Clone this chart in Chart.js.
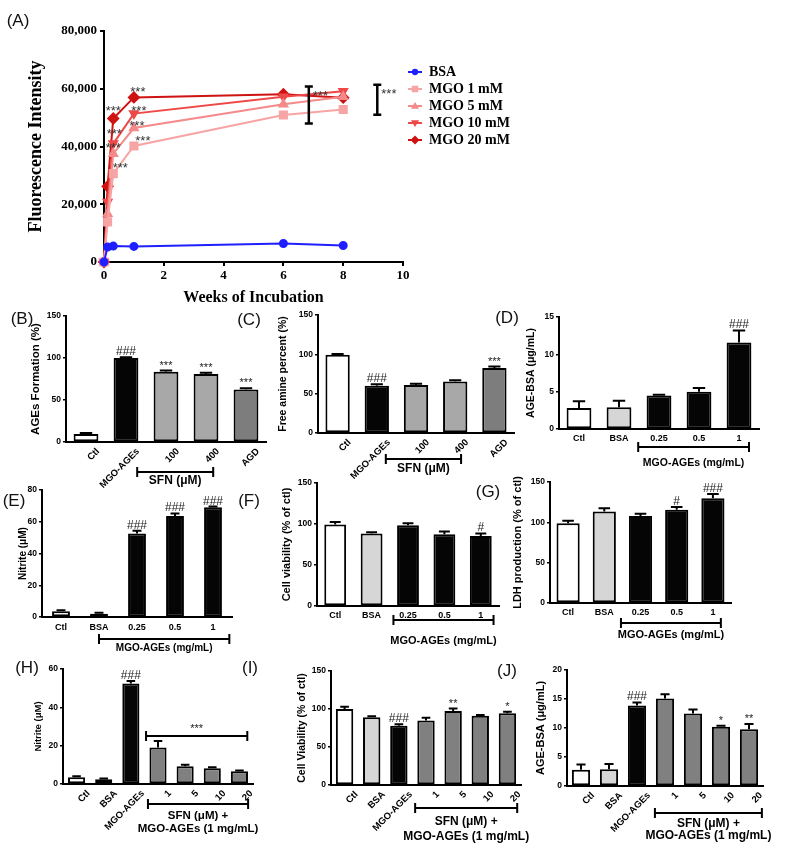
<!DOCTYPE html>
<html lang="en">
<head>
<meta charset="UTF-8" />
<title>MGO-AGEs and SFN - figure</title>
<script src="https://cdn.jsdelivr.net/npm/chart.js"></script>
<style>
  body { margin:0; background:#fff; }
  #page { position:relative; width:785px; height:851px; overflow:hidden; background:#fff; }
  .tag { position:absolute; font:17px "Liberation Sans", Arial, sans-serif; line-height:1; transform:translate(-50%,-50%); color:#111; white-space:nowrap; }
</style>
</head>
<body>
<div id="page"></div>

<script>
// ---------- (A) fluorescence over time ----------
const weeks = [0, 0.12, 0.31, 1, 6, 8];
const seriesNames = ['BSA', 'MGO 1 mM', 'MGO 5 mM', 'MGO 10 mM', 'MGO 20 mM'];
const bsaSeries   = [0, 5200, 5500, 5400, 6400, 5700];
const mgo1Series  = [0, 13900, 30600, 40200, 50900, 52800];
const mgo5Series  = [0, 16700, 37500, 46400, 54600, 57200];
const mgo10Series = [0, 20800, 41000, 51400, 57200, 59100];
const mgo20Series = [0, 26200, 49700, 57000, 58100, 56900];

// ---------- (B)-(J) bar panels: mean, error, significance ----------
const sfnLabels   = ['Ctl', 'MGO-AGEs', '100', '400', 'AGD'];
const doseLabels  = ['Ctl', 'BSA', '0.25', '0.5', '1'];
const treatLabels = ['Ctl', 'BSA', 'MGO-AGEs', '1', '5', '10', '20'];

const bValues = [9.5, 100, 83.5, 81, 62.5];
const bErrors = [1.2, 1, 1.5, 1.5, 1.5];
const bMarks  = ['', '###', '***', '***', '***'];

const cValues = [99.5, 60, 61, 65.5, 82.5];
const cErrors = [1, 2, 1.5, 1.5, 2];
const cMarks  = ['', '###', '', '', '***'];

const dValues = [2.8, 2.9, 4.5, 5.0, 11.6];
const dErrors = [0.9, 0.9, 0.1, 0.5, 1.6];
const dMarks  = ['', '', '', '', '###'];

const eValues = [3.6, 2.1, 52.6, 63.6, 69.1];
const eErrors = [0.6, 0.5, 1.7, 1.6, 0.5];
const eMarks  = ['', '', '###', '###', '###'];

const fValues = [99.5, 88.5, 98.5, 87.5, 85.5];
const fErrors = [3, 1.5, 2.5, 3.5, 3];
const fMarks  = ['', '', '', '', '#'];

const gValues = [99, 113.5, 108, 115.5, 130];
const gErrors = [3, 4, 2.5, 3.5, 5];
const gMarks  = ['', '', '', '#', '###'];

const hValues = [3.5, 2.5, 52.5, 19, 9.3, 8.2, 6.6];
const hErrors = [0.5, 0.4, 1.3, 3.5, 0.8, 0.5, 0.5];
const hMarks  = ['', '', '###', '', '', '', ''];

const iValues = [100, 89, 78, 85, 97.5, 91, 94.5];
const iErrors = [3, 1.5, 2, 3.5, 3, 1, 2];
const iMarks  = ['', '', '###', '', '**', '', '*'];

const jValues = [2.8, 2.9, 13.9, 15.1, 12.5, 10.2, 9.8];
const jErrors = [0.9, 0.9, 0.5, 0.7, 0.7, 0.2, 0.9];
const jMarks  = ['', '', '###', '', '', '*', '**'];

// ---------- setup ----------
const SANS = '"Liberation Sans", Arial, sans-serif';
const SERIF = '"Liberation Serif", "Times New Roman", serif';
Chart.defaults.font.family = SANS;
Chart.defaults.color = '#000';
Chart.defaults.animation = false;
Chart.defaults.plugins.legend.display = false;
Chart.defaults.plugins.tooltip.enabled = false;

const page = document.getElementById('page');

function mount(box) {
  const [l, t, w, h] = box;
  const cv = document.createElement('canvas');
  cv.width = w; cv.height = h;
  cv.style.cssText = `position:absolute;left:${l}px;top:${t}px;width:${w}px;height:${h}px`;
  page.appendChild(cv);
  return cv;
}

function marker(ctx, style, x, y, r, color) {
  ctx.fillStyle = color;
  ctx.beginPath();
  if (style === 'circle') ctx.arc(x, y, r, 0, Math.PI * 2);
  else if (style === 'rect') ctx.rect(x - r * 0.72, y - r * 0.72, r * 1.44, r * 1.44);
  else if (style === 'up') { ctx.moveTo(x, y - r); ctx.lineTo(x + r, y + r * 0.7); ctx.lineTo(x - r, y + r * 0.7); ctx.closePath(); }
  else if (style === 'down') { ctx.moveTo(x, y + r); ctx.lineTo(x + r, y - r * 0.7); ctx.lineTo(x - r, y - r * 0.7); ctx.closePath(); }
  else { ctx.moveTo(x, y - r); ctx.lineTo(x + r, y); ctx.lineTo(x, y + r); ctx.lineTo(x - r, y); ctx.closePath(); }
  ctx.fill();
}

// asterisks float high in the em box, so place them by their visual centre
function stars(ctx, txt, x, yc, size) {
  ctx.font = `${size}px ${SANS}`;
  ctx.textBaseline = 'alphabetic';
  ctx.fillText(txt, x, yc + size * 0.57);
}

// ---------- panel (A) ----------
const aSeries = [bsaSeries, mgo1Series, mgo5Series, mgo10Series, mgo20Series];
const aColors = ['#1f1fff', '#f7a4a4', '#f48a8a', '#ef4848', '#cf1212'];
const aPoints = ['circle', 'rect', 'triangle', 'triangle', 'rectRot'];
const aLegendShapes = ['circle', 'rect', 'up', 'down', 'diamond'];
const aRot = [0, 0, 0, 180, 0];
const aRadius = [3.5, 5, 4.5, 4.5, 5];
// '***' labels: [series, point, dx, dy] in pixels from the point
const aStars = [[4, 3, 4, -9], [4, 2, 0, -11], [3, 3, 5, -6], [3, 2, 1, -13],
                [2, 3, 3, -5], [2, 2, 0, -9], [1, 3, 9, -8], [1, 2, 7, -9]];
// vertical significance brackets: [week, low, high]
const aBrackets = [[6.85, 48000, 60800], [9.14, 51000, 61400]];

const aExtras = {
  id: 'aExtras',
  afterDatasetsDraw(chart) {
    const { ctx, scales: { x, y }, chartArea } = chart;
    ctx.save();
    ctx.fillStyle = '#333';
    ctx.textAlign = 'center';
    aStars.forEach(([s, i, dx, dy]) => {
      stars(ctx, '***', x.getPixelForValue(weeks[i]) + dx, y.getPixelForValue(aSeries[s][i]) + dy, 13);
    });
    ctx.strokeStyle = '#000';
    ctx.lineWidth = 2.5;
    aBrackets.forEach(([wk, lo, hi]) => {
      const bx = x.getPixelForValue(wk), ya = y.getPixelForValue(hi), yb = y.getPixelForValue(lo);
      ctx.beginPath();
      ctx.moveTo(bx, ya); ctx.lineTo(bx, yb);
      ctx.moveTo(bx - 4, ya); ctx.lineTo(bx + 4, ya);
      ctx.moveTo(bx - 4, yb); ctx.lineTo(bx + 4, yb);
      ctx.stroke();
      ctx.textAlign = 'left';
      ctx.fillStyle = '#333';
      stars(ctx, '***', bx + 4, ya + 6, 13);
    });
    // legend
    const lx = chartArea.right + 12;
    seriesNames.forEach((name, k) => {
      const ly = chartArea.top + 41 + k * 17;
      ctx.strokeStyle = aColors[k];
      ctx.lineWidth = 2;
      ctx.beginPath(); ctx.moveTo(lx - 7, ly); ctx.lineTo(lx + 7, ly); ctx.stroke();
      marker(ctx, aLegendShapes[k], lx, ly, aRadius[k] * 0.9, aColors[k]);
      ctx.fillStyle = '#000';
      ctx.font = `bold 14px ${SERIF}`;
      ctx.textAlign = 'left';
      ctx.textBaseline = 'middle';
      ctx.fillText(name, lx + 14, ly);
    });
    ctx.restore();
  }
};

new Chart(mount([0, 0, 520, 310]), {
  type: 'line',
  data: {
    datasets: aSeries.map((vals, k) => ({
      label: seriesNames[k],
      data: weeks.map((w, i) => ({ x: w, y: vals[i] })),
      borderColor: aColors[k],
      backgroundColor: aColors[k],
      pointBackgroundColor: aColors[k],
      pointBorderColor: aColors[k],
      pointStyle: aPoints[k],
      pointRotation: aRot[k],
      pointRadius: aRadius[k],
      borderWidth: 2,
      tension: 0,
      clip: false
    }))
  },
  options: {
    responsive: false,
    layout: { padding: { left: 0, top: 31, right: 117, bottom: 0 } },
    scales: {
      x: {
        type: 'linear', min: 0, max: 10,
        ticks: { stepSize: 2, padding: 2, font: { family: SERIF, size: 13, weight: 'bold' } },
        grid: { drawOnChartArea: false, drawTicks: true, tickLength: 4, color: '#000', lineWidth: 2 },
        border: { color: '#000', width: 2 },
        title: { display: true, text: 'Weeks of Incubation', font: { family: SERIF, size: 16, weight: 'bold' }, padding: { top: 0, bottom: 3 } },
        afterFit: s => { s.height = 48; s.paddingLeft = 0; s.paddingRight = 0; }
      },
      y: {
        min: 0, max: 80000,
        ticks: { stepSize: 20000, padding: 3, font: { family: SERIF, size: 13, weight: 'bold' }, callback: v => v.toLocaleString('en-US') },
        grid: { drawOnChartArea: false, drawTicks: true, tickLength: 4, color: '#000', lineWidth: 2 },
        border: { color: '#000', width: 2 },
        title: { display: true, text: 'Fluorescence Intensity', font: { family: SERIF, size: 18, weight: 'bold' }, padding: { top: 26, bottom: 0 } },
        afterFit: s => { s.width = 104; s.paddingTop = 0; s.paddingBottom = 0; }
      }
    }
  },
  plugins: [aExtras]
});

// ---------- bar panels ----------
const WHITE = '#ffffff', BLACK = '#050505', PALE = '#d6d6d6', SFN = '#a8a8a8', AGD = '#7d7d7d', GREY = '#808080';

function barPanel(p) {
  const [L, T, W, H] = p.box;
  const [x0, y0, x1, y1] = p.area;
  const lh = p.titleSize * 1.2;
  const extras = {
    id: 'extras' + p.tag,
    afterDatasetsDraw(chart) {
      const { ctx, scales: { x, y }, chartArea } = chart;
      const bars = chart.getDatasetMeta(0).data;
      ctx.save();
      ctx.strokeStyle = '#000';
      ctx.lineWidth = 2;
      ctx.textAlign = 'center';
      bars.forEach((bar, i) => {
        const top = y.getPixelForValue(p.values[i] + p.errors[i]);
        const half = bar.width * 0.25;
        ctx.beginPath();
        ctx.moveTo(bar.x, bar.y); ctx.lineTo(bar.x, top);
        ctx.moveTo(bar.x - half, top); ctx.lineTo(bar.x + half, top);
        ctx.stroke();
        const m = p.marks[i];
        if (m) {
          ctx.fillStyle = '#222';
          ctx.textBaseline = 'alphabetic';
          ctx.font = m[0] === '#' ? `12px ${SANS}` : `11px ${SANS}`;
          ctx.fillText(m, bar.x, top - 2);
        }
      });
      p.groups.forEach(g => {
        const xa = x.getPixelForValue(g.from), xb = x.getPixelForValue(g.to);
        const gy = chartArea.bottom + g.dy;
        ctx.beginPath();
        ctx.moveTo(xa, gy); ctx.lineTo(xb, gy);
        ctx.moveTo(xa, gy - 5); ctx.lineTo(xa, gy + 5);
        ctx.moveTo(xb, gy - 5); ctx.lineTo(xb, gy + 5);
        ctx.stroke();
        const cx = (xa + xb) / 2;
        if (g.above) {
          ctx.fillStyle = '#222';
          ctx.textBaseline = 'alphabetic';
          ctx.font = `11px ${SANS}`;
          ctx.fillText(g.above, cx, gy - 4);
        }
        ctx.fillStyle = '#000';
        ctx.font = `bold ${g.size}px ${SANS}`;
        ctx.textBaseline = 'middle';
        g.text.forEach((t, k) => ctx.fillText(t, cx, chartArea.bottom + g.textDy[k]));
      });
      ctx.restore();
    }
  };

  new Chart(mount(p.box), {
    type: 'bar',
    data: {
      labels: p.labels,
      datasets: [{
        data: p.values,
        backgroundColor: p.colors,
        borderColor: '#000',
        borderWidth: 2,
        borderSkipped: false,
        barPercentage: p.bar,
        categoryPercentage: 1
      }]
    },
    options: {
      responsive: false,
      layout: { padding: { left: 0, top: y0 - T, right: L + W - x1, bottom: 0 } },
      scales: {
        x: {
          grid: { display: false, drawTicks: false, tickLength: 0 },
          border: { color: '#000', width: 2 },
          ticks: {
            autoSkip: false,
            minRotation: p.rotate ? 45 : 0, maxRotation: p.rotate ? 45 : 0,
            labelOffset: p.rotate ? 12 : 0,
            padding: p.tickPad,
            font: { size: p.xSize, weight: 'bold' }
          },
          afterFit: s => { s.height = T + H - y1; s.paddingLeft = 0; s.paddingRight = 0; }
        },
        y: {
          min: 0, max: p.yMax,
          ticks: { stepSize: p.yStep, padding: 2, font: { size: 8.5, weight: 'bold' } },
          grid: { drawOnChartArea: false, drawTicks: true, tickLength: 3, color: '#000', lineWidth: 1.5 },
          border: { color: '#000', width: 2 },
          title: { display: true, text: p.yTitle, font: { size: p.titleSize, weight: 'bold' }, padding: { top: p.titleX - L - lh / 2, bottom: 0 } },
          afterFit: s => { s.width = x0 - L; s.paddingTop = 0; s.paddingBottom = 0; }
        }
      }
    },
    plugins: [extras]
  });
}

const panels = [
  { tag: 'B', box: [18, 300, 252, 200], area: [66, 316, 266, 442], labels: sfnLabels, values: bValues, errors: bErrors, marks: bMarks,
    colors: [WHITE, BLACK, SFN, SFN, AGD], yMax: 150, yStep: 50, yTitle: 'AGEs Formation (%)', titleSize: 11.5, titleX: 36,
    rotate: true, xSize: 9.5, tickPad: 4, bar: 0.62,
    groups: [{ from: 1.28, to: 3.18, dy: 30, text: ['SFN (μM)'], textDy: [39], size: 12 }] },
  { tag: 'C', box: [268, 300, 250, 200], area: [318, 315, 514, 433], labels: sfnLabels, values: cValues, errors: cErrors, marks: cMarks,
    colors: [WHITE, BLACK, SFN, SFN, AGD], yMax: 150, yStep: 50, yTitle: 'Free amine percent (%)', titleSize: 10.5, titleX: 283,
    rotate: true, xSize: 9.5, tickPad: 4, bar: 0.62,
    groups: [{ from: 1.23, to: 3.15, dy: 26, text: ['SFN (μM)'], textDy: [36], size: 12 }] },
  { tag: 'D', box: [518, 300, 262, 175], area: [559, 317, 759, 429], labels: doseLabels, values: dValues, errors: dErrors, marks: dMarks,
    colors: [WHITE, PALE, BLACK, BLACK, BLACK], yMax: 15, yStep: 5, yTitle: 'AGE-BSA (μg/mL)', titleSize: 10.5, titleX: 531,
    rotate: false, xSize: 9, tickPad: 4, bar: 0.62,
    groups: [{ from: 1.48, to: 4.25, dy: 18, text: ['MGO-AGEs (mg/mL)'], textDy: [34], size: 10.5 }] },
  { tag: 'E', box: [4, 480, 240, 180], area: [42, 490, 232, 617], labels: doseLabels, values: eValues, errors: eErrors, marks: eMarks,
    colors: [WHITE, PALE, BLACK, BLACK, BLACK], yMax: 80, yStep: 20, yTitle: 'Nitrite (μM)', titleSize: 10, titleX: 23,
    rotate: false, xSize: 9, tickPad: 5, bar: 0.47,
    groups: [{ from: 1.0, to: 4.43, dy: 22, text: ['MGO-AGEs (mg/mL)'], textDy: [31], size: 10 }] },
  { tag: 'F', box: [270, 470, 235, 190], area: [317, 483, 499, 606], labels: doseLabels, values: fValues, errors: fErrors, marks: fMarks,
    colors: [WHITE, PALE, BLACK, BLACK, BLACK], yMax: 150, yStep: 50, yTitle: 'Cell viability (% of ctl)', titleSize: 11, titleX: 287,
    rotate: false, xSize: 9, tickPad: 4, bar: 0.6,
    groups: [{ from: 1.6, to: 4.35, dy: 14, text: ['MGO-AGEs (mg/mL)'], textDy: [35], size: 11 }] },
  { tag: 'G', box: [505, 470, 235, 190], area: [550, 482, 731, 603], labels: doseLabels, values: gValues, errors: gErrors, marks: gMarks,
    colors: [WHITE, PALE, BLACK, BLACK, BLACK], yMax: 150, yStep: 50, yTitle: 'LDH production (% of ctl)', titleSize: 11, titleX: 518,
    rotate: false, xSize: 9, tickPad: 4, bar: 0.64,
    groups: [{ from: 1.46, to: 4.22, dy: 20, text: ['MGO-AGEs (mg/mL)'], textDy: [32], size: 11 }] },
  { tag: 'H', box: [18, 650, 240, 200], area: [63, 669, 253, 784], labels: treatLabels, values: hValues, errors: hErrors, marks: hMarks,
    colors: [WHITE, PALE, BLACK, GREY, GREY, GREY, GREY], yMax: 60, yStep: 20, yTitle: 'Nitrite (μM)', titleSize: 9.5, titleX: 38,
    rotate: true, xSize: 9.5, tickPad: 4, bar: 0.63,
    groups: [{ from: 2.56, to: 6.29, dy: -48, text: [], textDy: [], size: 11, above: '***' },
             { from: 2.63, to: 6.32, dy: 20, text: ['SFN (μM) +', 'MGO-AGEs (1 mg/mL)'], textDy: [32, 45], size: 11.5 }] },
  { tag: 'I', box: [285, 650, 262, 200], area: [331, 671, 521, 785], labels: treatLabels, values: iValues, errors: iErrors, marks: iMarks,
    colors: [WHITE, PALE, BLACK, GREY, GREY, GREY, GREY], yMax: 150, yStep: 50, yTitle: 'Cell Viability (% of ctl)', titleSize: 10.5, titleX: 302,
    rotate: true, xSize: 9.5, tickPad: 4, bar: 0.64,
    groups: [{ from: 2.6, to: 6.36, dy: 23, text: ['SFN (μM) +', 'MGO-AGEs (1 mg/mL)'], textDy: [37, 52], size: 12 }] },
  { tag: 'J', box: [525, 650, 255, 200], area: [567, 670, 763, 786], labels: treatLabels, values: jValues, errors: jErrors, marks: jMarks,
    colors: [WHITE, PALE, BLACK, GREY, GREY, GREY, GREY], yMax: 20, yStep: 5, yTitle: 'AGE-BSA (μg/mL)', titleSize: 11, titleX: 541,
    rotate: true, xSize: 9.5, tickPad: 4, bar: 0.65,
    groups: [{ from: 2.64, to: 6.46, dy: 27, text: ['SFN (μM) +', 'MGO-AGEs (1 mg/mL)'], textDy: [38, 50], size: 12 }] }
];
panels.forEach(barPanel);

// panel letters
[['(A)', 18, 20], ['(B)', 22, 318], ['(C)', 249, 319], ['(D)', 507, 317], ['(E)', 14, 500], ['(F)', 249, 500],
 ['(G)', 488, 491], ['(H)', 27, 667], ['(I)', 250, 667], ['(J)', 507, 670]].forEach(([txt, x, y]) => {
  const d = document.createElement('div');
  d.className = 'tag';
  d.textContent = txt;
  d.style.left = x + 'px';
  d.style.top = y + 'px';
  page.appendChild(d);
});
</script>
</body>
</html>
